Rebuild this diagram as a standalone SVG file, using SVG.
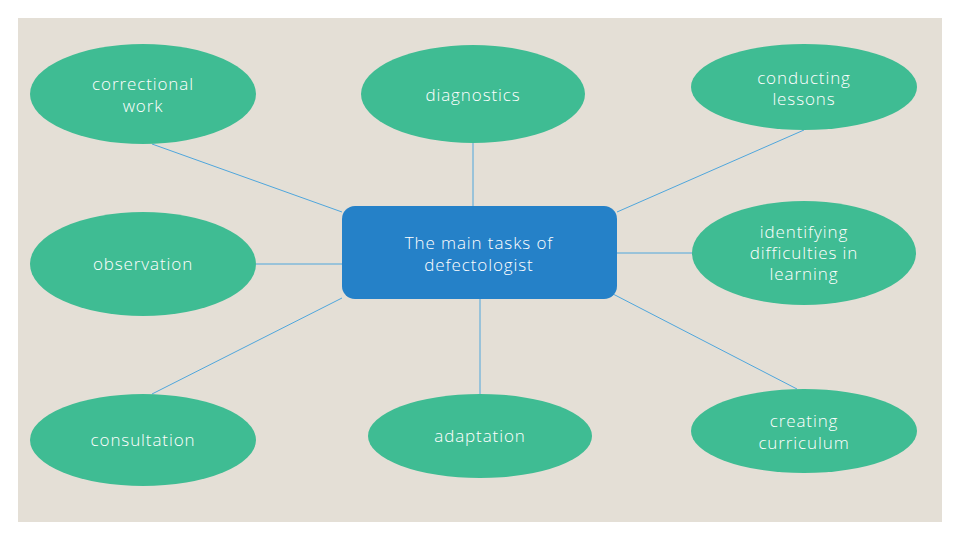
<svg xmlns="http://www.w3.org/2000/svg" width="960" height="540" viewBox="0 0 960 540">
<style>
.bg{fill:#e4dfd6}
.node ellipse{fill:#3fbc93}
.center rect{fill:#2581c8}
.t{font-family:"Open Sans","Liberation Sans",Arial,sans-serif;font-weight:300;font-size:17px;fill:#ffffff;text-anchor:middle;letter-spacing:0.9px}
.links line{stroke:#4fa6dc;stroke-width:1}
</style>
<rect width="960" height="540" fill="#ffffff"/>
<rect class="bg" x="18" y="18" width="924" height="504"/>
<g id="connectors" class="links">
<line x1="152" y1="144" x2="342" y2="212"/>
<line x1="473" y1="143" x2="473" y2="207"/>
<line x1="804" y1="130" x2="617" y2="212"/>
<line x1="256" y1="264" x2="342" y2="264"/>
<line x1="617" y1="253" x2="692" y2="253"/>
<line x1="152" y1="394" x2="342" y2="298"/>
<line x1="480" y1="395" x2="480" y2="299"/>
<line x1="797" y1="389" x2="613" y2="294"/>
</g>
<g id="center" class="center">
<rect x="342" y="206" width="275" height="93" rx="13"/>
<text class="t" x="479" y="249">The main tasks of</text>
<text class="t" x="479" y="271">defectologist</text>
</g>
<g id="correctional-work" class="node">
<ellipse cx="143" cy="94" rx="113" ry="50"/>
<text class="t" x="143" y="90">correctional</text>
<text class="t" x="143" y="112">work</text>
</g>
<g id="diagnostics" class="node">
<ellipse cx="473" cy="94" rx="112" ry="49"/>
<text class="t" x="473" y="101">diagnostics</text>
</g>
<g id="conducting-lessons" class="node">
<ellipse cx="804" cy="87" rx="113" ry="43"/>
<text class="t" x="804" y="84">conducting</text>
<text class="t" x="804" y="105">lessons</text>
</g>
<g id="observation" class="node">
<ellipse cx="143" cy="264" rx="113" ry="52"/>
<text class="t" x="143" y="270">observation</text>
</g>
<g id="identifying" class="node">
<ellipse cx="804" cy="253" rx="112" ry="52"/>
<text class="t" x="804" y="238">identifying</text>
<text class="t" x="804" y="259">difficulties in</text>
<text class="t" x="804" y="280">learning</text>
</g>
<g id="consultation" class="node">
<ellipse cx="143" cy="440" rx="113" ry="46"/>
<text class="t" x="143" y="446">consultation</text>
</g>
<g id="adaptation" class="node">
<ellipse cx="480" cy="436" rx="112" ry="42"/>
<text class="t" x="480" y="442">adaptation</text>
</g>
<g id="creating-curriculum" class="node">
<ellipse cx="804" cy="431" rx="113" ry="42"/>
<text class="t" x="804" y="427">creating</text>
<text class="t" x="804" y="449">curriculum</text>
</g>
</svg>
